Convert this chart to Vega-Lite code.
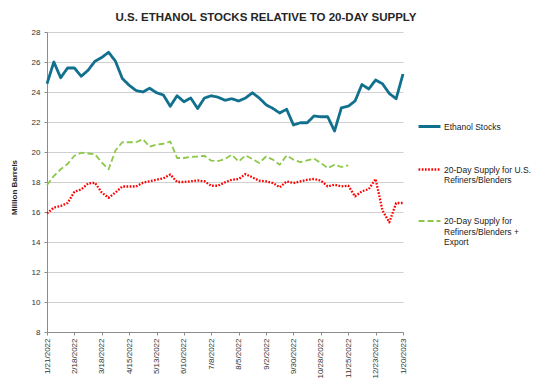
{
  "$schema": "https://vega.github.io/schema/vega-lite/v6.json",
  "autosize": "none",
  "width": 356,
  "height": 300,
  "padding": {"left": 47, "top": 32, "right": 131, "bottom": 56},
  "background": "white",
  "title": {
    "text": "U.S. ETHANOL STOCKS RELATIVE TO 20-DAY SUPPLY",
    "anchor": "middle",
    "frame": "group",
    "dx": 41,
    "offset": 5,
    "font": "Liberation Sans",
    "fontSize": 11.5,
    "fontWeight": "bold",
    "color": "#262626"
  },
  "config": {
    "font": "Liberation Sans",
    "view": {"stroke": null},
    "axis": {
      "labelFont": "Liberation Sans",
      "labelFontSize": 8,
      "labelColor": "#333333",
      "domainColor": "#8c8c8c",
      "tickColor": "#8c8c8c",
      "gridColor": "#d0d0d0",
      "tickSize": 3
    }
  },
  "data": {
    "values": [
      {"date": "1/21/2022", "stocks": 24.55, "us": 15.9, "export": 17.8},
      {"date": "1/28/2022", "stocks": 26.0, "us": 16.3, "export": 18.4},
      {"date": "2/4/2022", "stocks": 24.95, "us": 16.4, "export": 18.85},
      {"date": "2/11/2022", "stocks": 25.6, "us": 16.6, "export": 19.2},
      {"date": "2/18/2022", "stocks": 25.6, "us": 17.35, "export": 19.75},
      {"date": "2/25/2022", "stocks": 25.05, "us": 17.5, "export": 19.95},
      {"date": "3/4/2022", "stocks": 25.45, "us": 17.9, "export": 19.9},
      {"date": "3/11/2022", "stocks": 26.05, "us": 17.95, "export": 19.85},
      {"date": "3/18/2022", "stocks": 26.3, "us": 17.3, "export": 19.3},
      {"date": "3/25/2022", "stocks": 26.65, "us": 16.95, "export": 18.85},
      {"date": "4/1/2022", "stocks": 26.05, "us": 17.3, "export": 20.1},
      {"date": "4/8/2022", "stocks": 24.9, "us": 17.7, "export": 20.65},
      {"date": "4/15/2022", "stocks": 24.45, "us": 17.7, "export": 20.65},
      {"date": "4/22/2022", "stocks": 24.1, "us": 17.7, "export": 20.65},
      {"date": "4/29/2022", "stocks": 24.0, "us": 17.95, "export": 20.85},
      {"date": "5/6/2022", "stocks": 24.25, "us": 18.05, "export": 20.35},
      {"date": "5/13/2022", "stocks": 23.95, "us": 18.15, "export": 20.5},
      {"date": "5/20/2022", "stocks": 23.8, "us": 18.25, "export": 20.55},
      {"date": "5/27/2022", "stocks": 23.05, "us": 18.5, "export": 20.7},
      {"date": "6/3/2022", "stocks": 23.75, "us": 18.0, "export": 19.6},
      {"date": "6/10/2022", "stocks": 23.35, "us": 18.0, "export": 19.6},
      {"date": "6/17/2022", "stocks": 23.6, "us": 18.05, "export": 19.67},
      {"date": "6/24/2022", "stocks": 22.9, "us": 18.1, "export": 19.7},
      {"date": "7/1/2022", "stocks": 23.6, "us": 18.05, "export": 19.75},
      {"date": "7/8/2022", "stocks": 23.75, "us": 17.75, "export": 19.42},
      {"date": "7/15/2022", "stocks": 23.65, "us": 17.75, "export": 19.4},
      {"date": "7/22/2022", "stocks": 23.45, "us": 17.98, "export": 19.53},
      {"date": "7/29/2022", "stocks": 23.55, "us": 18.15, "export": 19.82},
      {"date": "8/5/2022", "stocks": 23.4, "us": 18.2, "export": 19.37},
      {"date": "8/12/2022", "stocks": 23.6, "us": 18.53, "export": 19.77},
      {"date": "8/19/2022", "stocks": 23.95, "us": 18.31, "export": 19.53},
      {"date": "8/26/2022", "stocks": 23.6, "us": 18.09, "export": 19.27},
      {"date": "9/2/2022", "stocks": 23.15, "us": 18.04, "export": 19.7},
      {"date": "9/9/2022", "stocks": 22.9, "us": 17.93, "export": 19.49},
      {"date": "9/16/2022", "stocks": 22.6, "us": 17.65, "export": 19.15},
      {"date": "9/23/2022", "stocks": 22.85, "us": 18.04, "export": 19.77},
      {"date": "9/30/2022", "stocks": 21.8, "us": 17.93, "export": 19.49},
      {"date": "10/7/2022", "stocks": 21.95, "us": 18.04, "export": 19.33},
      {"date": "10/14/2022", "stocks": 21.95, "us": 18.15, "export": 19.44},
      {"date": "10/21/2022", "stocks": 22.4, "us": 18.2, "export": 19.55},
      {"date": "10/28/2022", "stocks": 22.35, "us": 18.09, "export": 19.27},
      {"date": "11/4/2022", "stocks": 22.35, "us": 17.71, "export": 18.93},
      {"date": "11/11/2022", "stocks": 21.4, "us": 17.82, "export": 19.15},
      {"date": "11/18/2022", "stocks": 22.95, "us": 17.71, "export": 19.0},
      {"date": "11/25/2022", "stocks": 23.05, "us": 17.75, "export": 19.11},
      {"date": "12/2/2022", "stocks": 23.4, "us": 17.04, "export": null},
      {"date": "12/9/2022", "stocks": 24.5, "us": 17.38, "export": null},
      {"date": "12/16/2022", "stocks": 24.2, "us": 17.53, "export": null},
      {"date": "12/23/2022", "stocks": 24.8, "us": 18.2, "export": null},
      {"date": "12/30/2022", "stocks": 24.55, "us": 16.1, "export": null},
      {"date": "1/6/2023", "stocks": 23.9, "us": 15.31, "export": null},
      {"date": "1/13/2023", "stocks": 23.55, "us": 16.6, "export": null},
      {"date": "1/20/2023", "stocks": 25.2, "us": 16.6, "export": null}
    ]
  },
  "transform": [
    {"fold": ["stocks", "us", "export"], "as": ["series", "value"]}
  ],
  "mark": {"type": "line", "strokeCap": "butt", "strokeJoin": "round"},
  "encoding": {
    "x": {
      "field": "date",
      "type": "ordinal",
      "sort": null,
      "scale": {"type": "point", "padding": 0},
      "axis": {
        "title": null,
        "values": ["1/21/2022", "2/18/2022", "3/18/2022", "4/15/2022", "5/13/2022", "6/10/2022", "7/8/2022", "8/5/2022", "9/2/2022", "9/30/2022", "10/28/2022", "11/25/2022", "12/23/2022", "1/20/2023"],
        "labelAngle": -90,
        "labelPadding": 3,
        "grid": false
      }
    },
    "y": {
      "field": "value",
      "type": "quantitative",
      "scale": {"domain": [8, 28], "nice": false, "zero": false},
      "axis": {
        "values": [8, 10, 12, 14, 16, 18, 20, 22, 24, 26, 28],
        "title": "Million Barrels",
        "titleFont": "Liberation Sans",
        "titleFontSize": 8,
        "titleFontWeight": "bold",
        "titleColor": "#262626",
        "titleX": -29,
        "titleY": 155,
        "labelPadding": 4,
        "grid": true
      }
    },
    "color": {
      "field": "series",
      "type": "nominal",
      "scale": {"domain": ["stocks", "us", "export"], "range": ["#11708E", "#FF0000", "#8DC84B"]},
      "legend": {
        "title": null,
        "orient": "none",
        "legendX": 370,
        "legendY": 82,
        "symbolType": "stroke",
        "symbolSize": 480,
        "labelFont": "Liberation Sans",
        "labelFontSize": 8.5,
        "labelColor": "#222222",
        "labelOffset": 2,
        "labelLimit": 200,
        "rowPadding": 24,
        "labelExpr": "datum.value == 'stocks' ? 'Ethanol Stocks' : datum.value == 'us' ? ['20-Day Supply for U.S.', 'Refiners/Blenders'] : ['20-Day Supply for', 'Refiners/Blenders +', 'Export']"
      }
    },
    "strokeDash": {
      "field": "series",
      "type": "nominal",
      "scale": {"domain": ["stocks", "us", "export"], "range": [[1, 0], [1.7, 1.5], [6, 3]]},
      "legend": null
    },
    "strokeWidth": {
      "field": "series",
      "type": "nominal",
      "scale": {"domain": ["stocks", "us", "export"], "range": [2.8, 1.8, 2]},
      "legend": null
    }
  }
}
